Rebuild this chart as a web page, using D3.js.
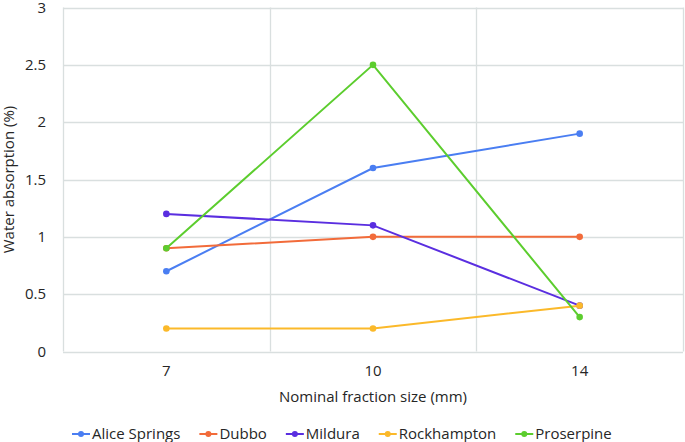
<!DOCTYPE html>
<html><head><meta charset="utf-8">
<script src="https://cdn.jsdelivr.net/npm/d3@7"></script>
<style>body{margin:0;background:#fff}svg{display:block}text{font-family:"Open Sans","Liberation Sans",sans-serif;fill:#262626}</style>
</head><body>
<script>
const categories = ["7", "10", "14"];
const seriesNames = ["Alice Springs", "Dubbo", "Mildura", "Rockhampton", "Proserpine"];
const aliceSprings = [0.7, 1.6, 1.9];
const dubbo = [0.9, 1.0, 1.0];
const mildura = [1.2, 1.1, 0.4];
const rockhampton = [0.2, 0.2, 0.4];
const proserpine = [0.9, 2.5, 0.3];
const colors = ["#4a7ef2", "#f26b3a", "#5a2ee0", "#fbb92a", "#5ccd2e"];
const yTicks = [0, 0.5, 1, 1.5, 2, 2.5, 3];
const yTickLabels = ["0", "0.5", "1", "1.5", "2", "2.5", "3"];
const xTitle = "Nominal fraction size (mm)";
const yTitle = "Water absorption (%)";

const series = [aliceSprings, dubbo, mildura, rockhampton, proserpine];
const W = 685, H = 442;
const m = {l: 63, r: 2, t: 7.5, b: 90.5};
const svg = d3.select("body").append("svg").attr("width", W).attr("height", H);
const x = d3.scaleBand().domain(categories).range([m.l, W - m.r]);
const y = d3.scaleLinear().domain([0, 3]).range([H - m.b, m.t]);
const grid = "#d9dfdf";

const g = svg.append("g");
// horizontal gridlines
g.selectAll(".hg").data(yTicks).join("line")
  .attr("x1", m.l).attr("x2", W - m.r)
  .attr("y1", d => Math.round(y(d)) + 0.5).attr("y2", d => Math.round(y(d)) + 0.5)
  .attr("stroke", grid).attr("stroke-width", 1.3);
// vertical gridlines at band boundaries
const bounds = [m.l].concat(categories.map(c => x(c) + x.bandwidth()));
g.selectAll(".vg").data(bounds).join("line")
  .attr("x1", d => Math.round(d) + 0.5).attr("x2", d => Math.round(d) + 0.5)
  .attr("y1", y(3)).attr("y2", y(0))
  .attr("stroke", grid).attr("stroke-width", 1.3);

// y tick labels
g.selectAll(".yl").data(yTicks).join("text")
  .attr("x", 46).attr("y", d => y(d)).attr("dy", "0.35em")
  .attr("text-anchor", "end").style("font-size", "15px")
  .text((d, i) => yTickLabels[i]);
// x tick labels
g.selectAll(".xl").data(categories).join("text")
  .attr("x", d => x(d) + x.bandwidth() / 2).attr("y", 376)
  .attr("text-anchor", "middle").style("font-size", "15px").text(d => d);
// titles
svg.append("text").attr("x", (m.l + W - m.r) / 2).attr("y", 402)
  .attr("text-anchor", "middle").style("font-size", "15px").text(xTitle);
svg.append("text").attr("transform", `translate(14,${(y(0) + y(3)) / 2}) rotate(-90)`)
  .attr("text-anchor", "middle").style("font-size", "15px").text(yTitle);

// lines
const line = d3.line().x((d, i) => x(categories[i]) + x.bandwidth() / 2).y(d => y(d));
series.forEach((s, k) => {
  g.append("path").datum(s).attr("d", line).attr("fill", "none")
    .attr("stroke", colors[k]).attr("stroke-width", 2);
  g.selectAll(".pt" + k).data(s).join("circle")
    .attr("cx", (d, i) => x(categories[i]) + x.bandwidth() / 2).attr("cy", d => y(d))
    .attr("r", 3.3).attr("fill", colors[k]);
});

// legend
const legY = 434;
const leg = svg.append("g");
let cx = 72;
seriesNames.forEach((n, k) => {
  leg.append("line").attr("x1", cx).attr("x2", cx + 18).attr("y1", legY).attr("y2", legY)
    .attr("stroke", colors[k]).attr("stroke-width", 2);
  leg.append("circle").attr("cx", cx + 9).attr("cy", legY).attr("r", 3).attr("fill", colors[k]);
  const t = leg.append("text").attr("x", cx + 20).attr("y", legY).attr("dy", "0.35em")
    .style("font-size", "15px").text(n);
  const w = t.node().getComputedTextLength();
  cx = cx + 20 + w + 19;
});
</script>
</body></html>
